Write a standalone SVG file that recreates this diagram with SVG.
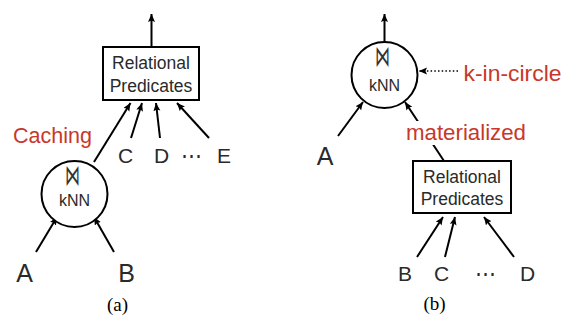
<svg xmlns="http://www.w3.org/2000/svg" width="577" height="325" viewBox="0 0 577 325">
<defs>
<marker id="ah" markerUnits="userSpaceOnUse" markerWidth="10" markerHeight="8" refX="8" refY="3.5" orient="auto">
<path d="M0,0 L8,3.5 L0,7 L1.5,3.5 z" fill="#000"/>
</marker>
<style>
.e{stroke:#000;stroke-width:2;fill:none;marker-end:url(#ah)}
.d{stroke:#000;stroke-width:1.6;fill:none;stroke-dasharray:1.5 2.2;marker-end:url(#ah)}
.box{fill:#fff;stroke:#000;stroke-width:2}
.cir{fill:#fff;stroke:#000;stroke-width:2}
.t{font-family:"Liberation Sans",Arial,sans-serif;fill:#2a2a2a;text-anchor:middle}
.bx{font-size:17.5px}
.op{font-size:16px}
.bt{font-family:"DejaVu Sans",sans-serif;font-size:20px;fill:#333;text-anchor:middle}
.s{font-size:21px}
.l{font-size:25px}
.r{font-family:"Liberation Sans",Arial,sans-serif;fill:#c8382a;font-size:21.5px}
.cap{font-family:"Liberation Serif","Times New Roman",serif;font-size:19px;fill:#000;text-anchor:middle}
</style>
</defs>
<g id="connectors">
<line class="e" x1="151.5" y1="47" x2="151.5" y2="14"/>
<line class="e" x1="94" y1="162" x2="130.5" y2="103"/>
<line class="e" x1="131" y1="138" x2="142" y2="103"/>
<line class="e" x1="160" y1="138" x2="156" y2="103"/>
<line class="e" x1="209" y1="138" x2="177" y2="103"/>
<line class="e" x1="36" y1="252" x2="57" y2="217"/>
<line class="e" x1="114" y1="252" x2="94" y2="217"/>
<line class="e" x1="384.5" y1="42" x2="384.5" y2="14"/>
<line class="e" x1="338" y1="136" x2="363" y2="102"/>
<line class="e" x1="444" y1="161" x2="405" y2="102"/>
<line class="d" x1="458" y1="71" x2="419" y2="71"/>
<line class="e" x1="417" y1="257" x2="443" y2="217"/>
<line class="e" x1="445" y1="257" x2="455" y2="217"/>
<line class="e" x1="514" y1="257" x2="484" y2="217"/>
</g>
<g id="rel-a">
<rect class="box" x="103" y="47" width="96" height="53"/>
<text class="t bx" x="151" y="69">Relational</text>
<text class="t bx" x="151" y="92">Predicates</text>
</g>
<g id="knn-a">
<circle class="cir" cx="74.5" cy="194" r="33"/>
<text class="bt" transform="translate(72.5,185) scale(0.75,1.45)">⋈</text>
<text class="t op" x="74.5" y="206">kNN</text>
</g>
<g id="label-caching">
<text class="r" x="13" y="143" textLength="79" lengthAdjust="spacingAndGlyphs">Caching</text>
</g>
<g id="leaves-a">
<text class="t s" x="125.5" y="163">C</text>
<text class="t s" x="161.5" y="163">D</text>
<text class="t s" x="191" y="163">⋯</text>
<text class="t s" x="224" y="163">E</text>
<text class="t l" x="24.5" y="282">A</text>
<text class="t l" x="126.5" y="282">B</text>
</g>
<text class="cap" x="117.5" y="311">(a)</text>
<g id="knn-b">
<circle class="cir" cx="384.5" cy="75" r="33"/>
<text class="bt" transform="translate(382.5,66) scale(0.75,1.45)">⋈</text>
<text class="t op" x="384.5" y="90.5">kNN</text>
</g>
<g id="label-kincircle">
<text class="r" x="463.5" y="81" textLength="98" lengthAdjust="spacingAndGlyphs">k-in-circle</text>
</g>
<g id="label-materialized">
<rect x="405" y="121" width="122" height="24" fill="#fff"/>
<text class="r" x="406" y="140" textLength="120" lengthAdjust="spacingAndGlyphs">materialized</text>
</g>
<g id="rel-b">
<rect class="box" x="413" y="161" width="98" height="52"/>
<text class="t bx" x="462" y="183">Relational</text>
<text class="t bx" x="462" y="205">Predicates</text>
</g>
<g id="leaves-b">
<text class="t l" x="325" y="165">A</text>
<text class="t s" x="405" y="281">B</text>
<text class="t s" x="441.5" y="281">C</text>
<text class="t s" x="485" y="281">⋯</text>
<text class="t s" x="527.5" y="281">D</text>
</g>
<text class="cap" x="434.5" y="310">(b)</text>
</svg>
